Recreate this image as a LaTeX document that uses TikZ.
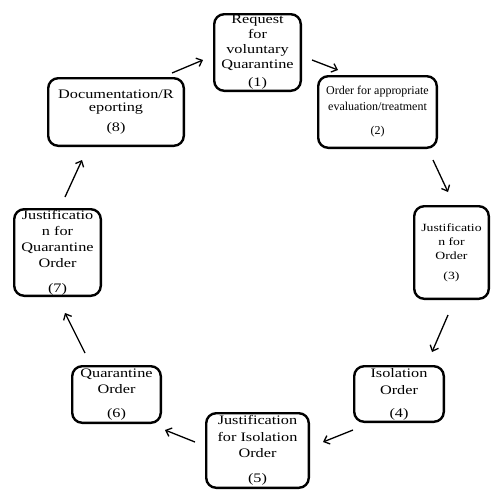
\documentclass[tikz,border=0pt]{standalone}
\usepackage{fontspec}
\setmainfont{Liberation Serif}
\newfontfamily\widefont{Liberation Serif}[FakeStretch=1.25]
\usetikzlibrary{arrows.meta}

\begin{document}
\begin{tikzpicture}[x=1pt, y=-1pt,
  box/.style={draw, line width=2.4pt, rounded corners=10pt, align=center, inner sep=0pt},
  >={Straight Barb[length=5pt,width=9pt]}]
\useasboundingbox (0,0) rectangle (500,490);
\node (req) at (257.5,52.5) [box, minimum width=86.6pt, minimum height=76.6pt, font=\widefont\fontsize{13}{15}\selectfont] {Request\\for\\voluntary\\Quarantine\\[3pt](1)};
\node (eval) at (377.5,112) [box, minimum width=118.6pt, minimum height=71.6pt, font=\fontsize{12}{16}\selectfont] {Order for appropriate\\evaluation/treatment\\[8pt](2)};
\node (just) at (451.5,252.5) [box, minimum width=74.6pt, minimum height=92.6pt, font=\widefont\fontsize{11}{14}\selectfont] {Justificatio\\n for\\Order\\[6pt](3)};
\node (iso) at (399,394) [box, minimum width=89.6pt, minimum height=55.6pt, font=\widefont\fontsize{13}{17}\selectfont] {Isolation\\Order\\[6pt](4)};
\node (jiso) at (257.5,450.5) [box, minimum width=102.6pt, minimum height=74.6pt, font=\widefont\fontsize{13}{16.5}\selectfont] {Justification\\for Isolation\\Order\\[8pt](5)};
\node (quar) at (116.5,394.5) [box, minimum width=88.6pt, minimum height=56.6pt, font=\widefont\fontsize{13}{16}\selectfont] {Quarantine\\Order\\[8pt](6)};
\node (jquar) at (57.5,252.5) [box, minimum width=86.6pt, minimum height=86.6pt, font=\widefont\fontsize{13}{16}\selectfont] {Justificatio\\n for\\Quarantine\\Order\\[9pt](7)};
\node (doc) at (116,112) [box, minimum width=135.6pt, minimum height=67.6pt, font=\widefont\fontsize{13}{13}\selectfont] {Documentation/R\\eporting\\[7pt](8)};
\draw [->, line width=1.3pt] ([shift={(-13,-4)}]doc.north east) -- ([shift={(-10,7.5)}]req.west);
\draw [->, line width=1.3pt] ([shift={(10,7.5)}]req.east) -- ([shift={(21,-5)}]eval.north west);
\draw [->, line width=1.3pt] ([shift={(-5,11)}]eval.south east) -- ([shift={(-3.5,-13)}]just.north);
\draw [->, line width=1.3pt] ([shift={(-3.5,15)}]just.south) -- ([shift={(-13,-13)}]iso.north east);
\draw [->, line width=1.3pt] ([shift={(0,7)}]iso.south west) -- ([shift={(13,-8.5)}]jiso.east);
\draw [->, line width=1.3pt] ([shift={(-10,-8.5)}]jiso.west) -- ([shift={(3,6)}]quar.south east);
\draw [->, line width=1.3pt] ([shift={(14,-12)}]quar.north west) -- ([shift={(7.5,16)}]jquar.south);
\draw [->, line width=1.3pt] ([shift={(7.5,-11)}]jquar.north) -- ([shift={(35,13)}]doc.south west);
\end{tikzpicture}
\end{document}
